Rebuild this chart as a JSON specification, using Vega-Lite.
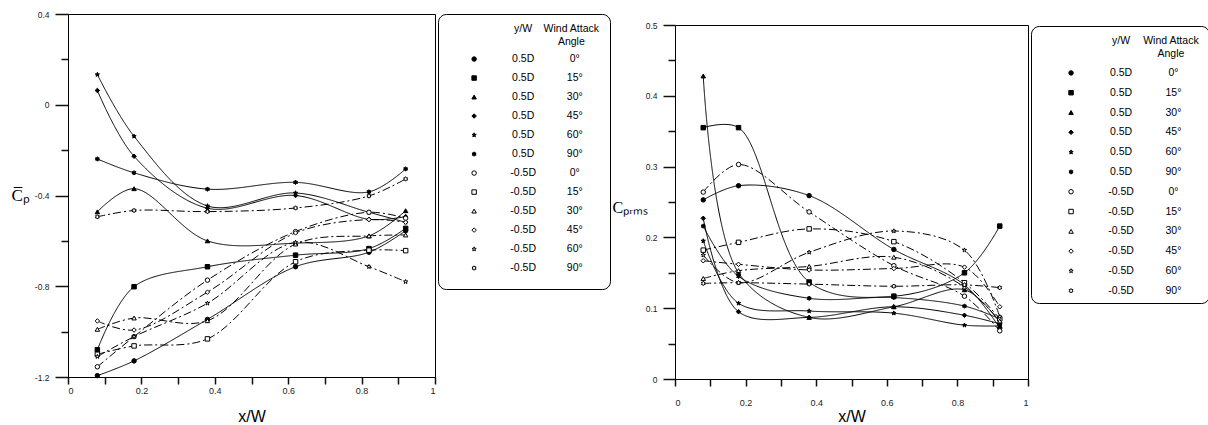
{
  "$schema": "https://vega.github.io/schema/vega-lite/v6.json",
  "background": "white",
  "padding": {"left": 10, "top": 9, "right": 0, "bottom": 0},
  "spacing": 0,
  "config": {
    "view": {"stroke": "black", "strokeWidth": 1},
    "font": "Liberation Sans",
    "axis": {"domainColor": "black", "domainWidth": 1, "labelColor": "#222", "labelFont": "Liberation Sans", "grid": false, "titleFont": "Liberation Sans", "titleFontWeight": "normal", "titleColor": "black", "zindex": 1}
  },
  "datasets": {
    "cp": [
      {"yw":"0.5D","a":"0°","x":0.08,"y":-1.194},{"yw":"0.5D","a":"0°","x":0.18,"y":-1.129},{"yw":"0.5D","a":"0°","x":0.38,"y":-0.946},{"yw":"0.5D","a":"0°","x":0.62,"y":-0.714},{"yw":"0.5D","a":"0°","x":0.82,"y":-0.65},{"yw":"0.5D","a":"0°","x":0.92,"y":-0.555},
      {"yw":"0.5D","a":"15°","x":0.08,"y":-1.08},{"yw":"0.5D","a":"15°","x":0.18,"y":-0.802},{"yw":"0.5D","a":"15°","x":0.38,"y":-0.714},{"yw":"0.5D","a":"15°","x":0.62,"y":-0.663},{"yw":"0.5D","a":"15°","x":0.82,"y":-0.634},{"yw":"0.5D","a":"15°","x":0.92,"y":-0.545},
      {"yw":"0.5D","a":"30°","x":0.08,"y":-0.472},{"yw":"0.5D","a":"30°","x":0.18,"y":-0.37},{"yw":"0.5D","a":"30°","x":0.38,"y":-0.6},{"yw":"0.5D","a":"30°","x":0.62,"y":-0.61},{"yw":"0.5D","a":"30°","x":0.82,"y":-0.578},{"yw":"0.5D","a":"30°","x":0.92,"y":-0.467},
      {"yw":"0.5D","a":"45°","x":0.08,"y":0.063},{"yw":"0.5D","a":"45°","x":0.18,"y":-0.227},{"yw":"0.5D","a":"45°","x":0.38,"y":-0.456},{"yw":"0.5D","a":"45°","x":0.62,"y":-0.4},{"yw":"0.5D","a":"45°","x":0.82,"y":-0.505},{"yw":"0.5D","a":"45°","x":0.92,"y":-0.493},
      {"yw":"0.5D","a":"60°","x":0.08,"y":0.133},{"yw":"0.5D","a":"60°","x":0.18,"y":-0.139},{"yw":"0.5D","a":"60°","x":0.38,"y":-0.446},{"yw":"0.5D","a":"60°","x":0.62,"y":-0.389},{"yw":"0.5D","a":"60°","x":0.82,"y":-0.474},{"yw":"0.5D","a":"60°","x":0.92,"y":-0.518},
      {"yw":"0.5D","a":"90°","x":0.08,"y":-0.239},{"yw":"0.5D","a":"90°","x":0.18,"y":-0.3},{"yw":"0.5D","a":"90°","x":0.38,"y":-0.372},{"yw":"0.5D","a":"90°","x":0.62,"y":-0.342},{"yw":"0.5D","a":"90°","x":0.82,"y":-0.384},{"yw":"0.5D","a":"90°","x":0.92,"y":-0.283},
      {"yw":"-0.5D","a":"0°","x":0.08,"y":-1.155},{"yw":"-0.5D","a":"0°","x":0.18,"y":-1.022},{"yw":"-0.5D","a":"0°","x":0.38,"y":-0.773},{"yw":"-0.5D","a":"0°","x":0.62,"y":-0.559},{"yw":"-0.5D","a":"0°","x":0.82,"y":-0.474},{"yw":"-0.5D","a":"0°","x":0.92,"y":-0.5},
      {"yw":"-0.5D","a":"15°","x":0.08,"y":-1.1},{"yw":"-0.5D","a":"15°","x":0.18,"y":-1.063},{"yw":"-0.5D","a":"15°","x":0.38,"y":-1.032},{"yw":"-0.5D","a":"15°","x":0.62,"y":-0.692},{"yw":"-0.5D","a":"15°","x":0.82,"y":-0.641},{"yw":"-0.5D","a":"15°","x":0.92,"y":-0.643},
      {"yw":"-0.5D","a":"30°","x":0.08,"y":-0.99},{"yw":"-0.5D","a":"30°","x":0.18,"y":-0.94},{"yw":"-0.5D","a":"30°","x":0.38,"y":-0.952},{"yw":"-0.5D","a":"30°","x":0.62,"y":-0.614},{"yw":"-0.5D","a":"30°","x":0.82,"y":-0.578},{"yw":"-0.5D","a":"30°","x":0.92,"y":-0.574},
      {"yw":"-0.5D","a":"45°","x":0.08,"y":-0.953},{"yw":"-0.5D","a":"45°","x":0.18,"y":-0.993},{"yw":"-0.5D","a":"45°","x":0.38,"y":-0.826},{"yw":"-0.5D","a":"45°","x":0.62,"y":-0.565},{"yw":"-0.5D","a":"45°","x":0.82,"y":-0.506},{"yw":"-0.5D","a":"45°","x":0.92,"y":-0.518},
      {"yw":"-0.5D","a":"60°","x":0.08,"y":-1.11},{"yw":"-0.5D","a":"60°","x":0.18,"y":-1.022},{"yw":"-0.5D","a":"60°","x":0.38,"y":-0.875},{"yw":"-0.5D","a":"60°","x":0.62,"y":-0.607},{"yw":"-0.5D","a":"60°","x":0.82,"y":-0.714},{"yw":"-0.5D","a":"60°","x":0.92,"y":-0.78},
      {"yw":"-0.5D","a":"90°","x":0.08,"y":-0.494},{"yw":"-0.5D","a":"90°","x":0.18,"y":-0.466},{"yw":"-0.5D","a":"90°","x":0.38,"y":-0.471},{"yw":"-0.5D","a":"90°","x":0.62,"y":-0.455},{"yw":"-0.5D","a":"90°","x":0.82,"y":-0.402},{"yw":"-0.5D","a":"90°","x":0.92,"y":-0.327}
    ],
    "cprms": [
      {"yw":"0.5D","a":"0°","x":0.08,"y":0.253},{"yw":"0.5D","a":"0°","x":0.18,"y":0.273},{"yw":"0.5D","a":"0°","x":0.38,"y":0.259},{"yw":"0.5D","a":"0°","x":0.62,"y":0.183},{"yw":"0.5D","a":"0°","x":0.82,"y":0.133},{"yw":"0.5D","a":"0°","x":0.92,"y":0.072},
      {"yw":"0.5D","a":"15°","x":0.08,"y":0.355},{"yw":"0.5D","a":"15°","x":0.18,"y":0.355},{"yw":"0.5D","a":"15°","x":0.38,"y":0.137},{"yw":"0.5D","a":"15°","x":0.62,"y":0.117},{"yw":"0.5D","a":"15°","x":0.82,"y":0.15},{"yw":"0.5D","a":"15°","x":0.92,"y":0.216},
      {"yw":"0.5D","a":"30°","x":0.08,"y":0.428},{"yw":"0.5D","a":"30°","x":0.18,"y":0.15},{"yw":"0.5D","a":"30°","x":0.38,"y":0.087},{"yw":"0.5D","a":"30°","x":0.62,"y":0.102},{"yw":"0.5D","a":"30°","x":0.82,"y":0.126},{"yw":"0.5D","a":"30°","x":0.92,"y":0.08},
      {"yw":"0.5D","a":"45°","x":0.08,"y":0.227},{"yw":"0.5D","a":"45°","x":0.18,"y":0.095},{"yw":"0.5D","a":"45°","x":0.38,"y":0.087},{"yw":"0.5D","a":"45°","x":0.62,"y":0.102},{"yw":"0.5D","a":"45°","x":0.82,"y":0.09},{"yw":"0.5D","a":"45°","x":0.92,"y":0.078},
      {"yw":"0.5D","a":"60°","x":0.08,"y":0.195},{"yw":"0.5D","a":"60°","x":0.18,"y":0.107},{"yw":"0.5D","a":"60°","x":0.38,"y":0.096},{"yw":"0.5D","a":"60°","x":0.62,"y":0.093},{"yw":"0.5D","a":"60°","x":0.82,"y":0.076},{"yw":"0.5D","a":"60°","x":0.92,"y":0.075},
      {"yw":"0.5D","a":"90°","x":0.08,"y":0.216},{"yw":"0.5D","a":"90°","x":0.18,"y":0.145},{"yw":"0.5D","a":"90°","x":0.38,"y":0.114},{"yw":"0.5D","a":"90°","x":0.62,"y":0.115},{"yw":"0.5D","a":"90°","x":0.82,"y":0.103},{"yw":"0.5D","a":"90°","x":0.92,"y":0.085},
      {"yw":"-0.5D","a":"0°","x":0.08,"y":0.264},{"yw":"-0.5D","a":"0°","x":0.18,"y":0.303},{"yw":"-0.5D","a":"0°","x":0.38,"y":0.236},{"yw":"-0.5D","a":"0°","x":0.62,"y":0.16},{"yw":"-0.5D","a":"0°","x":0.82,"y":0.117},{"yw":"-0.5D","a":"0°","x":0.92,"y":0.068},
      {"yw":"-0.5D","a":"15°","x":0.08,"y":0.182},{"yw":"-0.5D","a":"15°","x":0.18,"y":0.193},{"yw":"-0.5D","a":"15°","x":0.38,"y":0.212},{"yw":"-0.5D","a":"15°","x":0.62,"y":0.194},{"yw":"-0.5D","a":"15°","x":0.82,"y":0.136},{"yw":"-0.5D","a":"15°","x":0.92,"y":0.085},
      {"yw":"-0.5D","a":"30°","x":0.08,"y":0.142},{"yw":"-0.5D","a":"30°","x":0.18,"y":0.153},{"yw":"-0.5D","a":"30°","x":0.38,"y":0.159},{"yw":"-0.5D","a":"30°","x":0.62,"y":0.172},{"yw":"-0.5D","a":"30°","x":0.82,"y":0.13},{"yw":"-0.5D","a":"30°","x":0.92,"y":0.082},
      {"yw":"-0.5D","a":"45°","x":0.08,"y":0.167},{"yw":"-0.5D","a":"45°","x":0.18,"y":0.162},{"yw":"-0.5D","a":"45°","x":0.38,"y":0.154},{"yw":"-0.5D","a":"45°","x":0.62,"y":0.156},{"yw":"-0.5D","a":"45°","x":0.82,"y":0.158},{"yw":"-0.5D","a":"45°","x":0.92,"y":0.102},
      {"yw":"-0.5D","a":"60°","x":0.08,"y":0.175},{"yw":"-0.5D","a":"60°","x":0.18,"y":0.136},{"yw":"-0.5D","a":"60°","x":0.38,"y":0.179},{"yw":"-0.5D","a":"60°","x":0.62,"y":0.209},{"yw":"-0.5D","a":"60°","x":0.82,"y":0.182},{"yw":"-0.5D","a":"60°","x":0.92,"y":0.088},
      {"yw":"-0.5D","a":"90°","x":0.08,"y":0.135},{"yw":"-0.5D","a":"90°","x":0.18,"y":0.136},{"yw":"-0.5D","a":"90°","x":0.38,"y":0.134},{"yw":"-0.5D","a":"90°","x":0.62,"y":0.131},{"yw":"-0.5D","a":"90°","x":0.82,"y":0.133},{"yw":"-0.5D","a":"90°","x":0.92,"y":0.129}
    ],
    "leg": [
      {"r":1,"yw":"0.5D","a":"0°"},{"r":2,"yw":"0.5D","a":"15°"},{"r":3,"yw":"0.5D","a":"30°"},{"r":4,"yw":"0.5D","a":"45°"},{"r":5,"yw":"0.5D","a":"60°"},{"r":6,"yw":"0.5D","a":"90°"},
      {"r":7,"yw":"-0.5D","a":"0°"},{"r":8,"yw":"-0.5D","a":"15°"},{"r":9,"yw":"-0.5D","a":"30°"},{"r":10,"yw":"-0.5D","a":"45°"},{"r":11,"yw":"-0.5D","a":"60°"},{"r":12,"yw":"-0.5D","a":"90°"}
    ]
  },
  "hconcat": [
    {
      "width": 367, "height": 363,
      "data": {"name": "cp"},
      "encoding": {
        "x": {"field": "x", "type": "quantitative", "scale": {"domain": [0, 1], "nice": false},
          "axis": {"values": [0,0.1,0.2,0.3,0.4,0.5,0.6,0.7,0.8,0.9,1], "labelExpr": "round(datum.value*10)%2==0 ? ''+datum.value : ''", "ticks": true, "tickColor": "#111111", "tickWidth": 1.5, "tickOpacity": 1, "tickSize": 7, "labelPadding": 2, "labelFontSize": 9, "title": "x/W", "titleFontSize": 16, "titleY": 39, "titleBaseline": "middle"}},
        "y": {"field": "y", "type": "quantitative", "scale": {"domain": [-1.2, 0.4], "nice": false, "zero": false},
          "axis": {"values": [-1.2,-1,-0.8,-0.6,-0.4,-0.2,0,0.2,0.4], "labelExpr": "abs(round(datum.value*10))%4==0 ? ''+datum.value : ''", "ticks": true, "tickColor": "#111111", "tickWidth": 1.5, "tickOpacity": 1, "tickSize": {"condition": {"test": "abs(round(datum.value*10))%4==0", "value": 13}, "value": 7}, "labelPadding": 6, "labelFontSize": 8.5, "title": "C̅ₚ", "titleFont": "Liberation Serif", "titleFontSize": 17, "titleAngle": 0, "titleAlign": "left", "titleBaseline": "middle", "titleX": -57, "titleY": 181}}
      },
      "layer": [
        {"mark": {"type": "line", "interpolate": "catmull-rom", "color": "black", "strokeWidth": 1},
         "encoding": {"detail": {"field": "a"}, "strokeDash": {"field": "yw", "type": "nominal", "scale": {"domain": ["0.5D","-0.5D"], "range": [[1,0],[8,3,2,3]]}, "legend": null}}},
        {"mark": {"type": "point", "filled": true, "stroke": "black", "strokeWidth": 1, "opacity": 1, "size": 20},
         "encoding": {
           "shape": {"field": "a", "type": "nominal", "scale": {"domain": ["0°","15°","30°","45°","60°","90°"], "range": ["circle","square","triangle-up","diamond","M0,-1L0.235,-0.324L0.951,-0.309L0.38,0.124L0.588,0.809L0,0.4L-0.588,0.809L-0.38,0.124L-0.951,-0.309L-0.235,-0.324Z","M0,-1L0.3,-0.52L0.866,-0.5L0.6,0L0.866,0.5L0.3,0.52L0,1L-0.3,0.52L-0.866,0.5L-0.6,0L-0.866,-0.5L-0.3,-0.52Z"]}, "legend": null},
           "fill": {"field": "yw", "type": "nominal", "scale": {"domain": ["0.5D","-0.5D"], "range": ["black","white"]}, "legend": null}}}
      ]
    },
    {
      "width": 172, "height": 275,
      "view": {"stroke": "black", "strokeWidth": 1, "cornerRadius": 8},
      "data": {"name": "leg"},
      "layer": [
        {"mark": {"type": "point", "filled": true, "stroke": "black", "strokeWidth": 1, "opacity": 1, "size": 20},
         "encoding": {
           "x": {"datum": 0.21, "type": "quantitative", "scale": {"domain": [0, 1], "nice": false}, "axis": null},
           "y": {"field": "r", "type": "quantitative", "scale": {"domain": [-1.37, 13.1], "reverse": true, "nice": false, "zero": false}, "axis": null},
           "shape": {"field": "a", "type": "nominal", "scale": {"domain": ["0°","15°","30°","45°","60°","90°"], "range": ["circle","square","triangle-up","diamond","M0,-1L0.235,-0.324L0.951,-0.309L0.38,0.124L0.588,0.809L0,0.4L-0.588,0.809L-0.38,0.124L-0.951,-0.309L-0.235,-0.324Z","M0,-1L0.3,-0.52L0.866,-0.5L0.6,0L0.866,0.5L0.3,0.52L0,1L-0.3,0.52L-0.866,0.5L-0.6,0L-0.866,-0.5L-0.3,-0.52Z"]}, "legend": null},
           "fill": {"field": "yw", "type": "nominal", "scale": {"domain": ["0.5D","-0.5D"], "range": ["black","white"]}, "legend": null}}},
        {"mark": {"type": "text", "font": "Liberation Sans", "fontSize": 10.5, "align": "center", "baseline": "middle", "color": "black"},
         "encoding": {"x": {"datum": 0.495, "type": "quantitative"}, "y": {"field": "r", "type": "quantitative"}, "text": {"field": "yw"}}},
        {"mark": {"type": "text", "font": "Liberation Sans", "fontSize": 10.5, "align": "center", "baseline": "middle", "color": "black"},
         "encoding": {"x": {"datum": 0.795, "type": "quantitative"}, "y": {"field": "r", "type": "quantitative"}, "text": {"field": "a"}}},
        {"data": {"values": [{}]},
         "mark": {"type": "text", "text": "y/W", "font": "Liberation Sans", "fontSize": 10.5, "align": "center", "baseline": "top", "color": "black"},
         "encoding": {"x": {"datum": 0.495, "type": "quantitative"}, "y": {"datum": -0.85, "type": "quantitative"}}},
        {"data": {"values": [{}]},
         "mark": {"type": "text", "text": ["Wind Attack", "Angle"], "lineHeight": 13, "font": "Liberation Sans", "fontSize": 10.5, "align": "center", "baseline": "top", "color": "black"},
         "encoding": {"x": {"datum": 0.775, "type": "quantitative"}, "y": {"datum": -0.85, "type": "quantitative"}}}
      ]
    },
    {
      "spacing": 0,
      "vconcat": [
        {"width": 1, "height": 6, "view": {"fill": "white", "stroke": null}, "data": {"values": []}, "mark": "rect", "encoding": {}},
        {
          "width": 353, "height": 354,
          "data": {"name": "cprms"},
          "encoding": {
            "x": {"field": "x", "type": "quantitative", "scale": {"domain": [0, 1], "nice": false},
              "axis": {"values": [0,0.1,0.2,0.3,0.4,0.5,0.6,0.7,0.8,0.9,1], "labelExpr": "round(datum.value*10)%2==0 ? ''+datum.value : ''", "ticks": true, "tickColor": "#111111", "tickWidth": 1.5, "tickOpacity": 1, "tickSize": 7, "labelPadding": 12, "labelFontSize": 9, "title": "x/W", "titleFontSize": 16, "titleY": 37, "titleBaseline": "middle"}},
            "y": {"field": "y", "type": "quantitative", "scale": {"domain": [0, 0.5], "nice": false},
              "axis": {"values": [0,0.05,0.1,0.15,0.2,0.25,0.3,0.35,0.4,0.45,0.5], "labelExpr": "round(datum.value*100)%10==0 ? ''+datum.value : ''", "ticks": true, "tickColor": "#111111", "tickWidth": 1.5, "tickOpacity": 1, "tickSize": {"condition": {"test": "round(datum.value*100)%10==0", "value": 12}, "value": 7}, "labelPadding": 6, "labelFontSize": 8.5, "title": "Cₚᵣₘₛ", "titleFont": "Liberation Serif", "titleFontSize": 16, "titleAngle": 0, "titleAlign": "left", "titleBaseline": "middle", "titleX": -63, "titleY": 182}}
          },
          "layer": [
            {"mark": {"type": "line", "interpolate": "catmull-rom", "color": "black", "strokeWidth": 1},
             "encoding": {"detail": {"field": "a"}, "strokeDash": {"field": "yw", "type": "nominal", "scale": {"domain": ["0.5D","-0.5D"], "range": [[1,0],[8,3,2,3]]}, "legend": null}}},
            {"mark": {"type": "point", "filled": true, "stroke": "black", "strokeWidth": 1, "opacity": 1, "size": 20},
             "encoding": {
               "shape": {"field": "a", "type": "nominal", "scale": {"domain": ["0°","15°","30°","45°","60°","90°"], "range": ["circle","square","triangle-up","diamond","M0,-1L0.235,-0.324L0.951,-0.309L0.38,0.124L0.588,0.809L0,0.4L-0.588,0.809L-0.38,0.124L-0.951,-0.309L-0.235,-0.324Z","M0,-1L0.3,-0.52L0.866,-0.5L0.6,0L0.866,0.5L0.3,0.52L0,1L-0.3,0.52L-0.866,0.5L-0.6,0L-0.866,-0.5L-0.3,-0.52Z"]}, "legend": null},
               "fill": {"field": "yw", "type": "nominal", "scale": {"domain": ["0.5D","-0.5D"], "range": ["black","white"]}, "legend": null}}}
          ]
        }
      ]
    },
    {
      "spacing": 0,
      "vconcat": [
        {"width": 1, "height": 11, "view": {"fill": "white", "stroke": null}, "data": {"values": []}, "mark": "rect", "encoding": {}},
        {
          "width": 178, "height": 277,
          "view": {"stroke": "black", "strokeWidth": 1, "cornerRadius": 8},
          "data": {"name": "leg"},
          "layer": [
            {"mark": {"type": "point", "filled": true, "stroke": "black", "strokeWidth": 1, "opacity": 1, "size": 20},
             "encoding": {
               "x": {"datum": 0.225, "type": "quantitative", "scale": {"domain": [0, 1], "nice": false}, "axis": null},
               "y": {"field": "r", "type": "quantitative", "scale": {"domain": [-1.37, 12.62], "reverse": true, "nice": false, "zero": false}, "axis": null},
               "shape": {"field": "a", "type": "nominal", "scale": {"domain": ["0°","15°","30°","45°","60°","90°"], "range": ["circle","square","triangle-up","diamond","M0,-1L0.235,-0.324L0.951,-0.309L0.38,0.124L0.588,0.809L0,0.4L-0.588,0.809L-0.38,0.124L-0.951,-0.309L-0.235,-0.324Z","M0,-1L0.3,-0.52L0.866,-0.5L0.6,0L0.866,0.5L0.3,0.52L0,1L-0.3,0.52L-0.866,0.5L-0.6,0L-0.866,-0.5L-0.3,-0.52Z"]}, "legend": null},
               "fill": {"field": "yw", "type": "nominal", "scale": {"domain": ["0.5D","-0.5D"], "range": ["black","white"]}, "legend": null}}},
            {"mark": {"type": "text", "font": "Liberation Sans", "fontSize": 10.5, "align": "center", "baseline": "middle", "color": "black"},
             "encoding": {"x": {"datum": 0.506, "type": "quantitative"}, "y": {"field": "r", "type": "quantitative"}, "text": {"field": "yw"}}},
            {"mark": {"type": "text", "font": "Liberation Sans", "fontSize": 10.5, "align": "center", "baseline": "middle", "color": "black"},
             "encoding": {"x": {"datum": 0.8, "type": "quantitative"}, "y": {"field": "r", "type": "quantitative"}, "text": {"field": "a"}}},
            {"data": {"values": [{}]},
             "mark": {"type": "text", "text": "y/W", "font": "Liberation Sans", "fontSize": 10.5, "align": "center", "baseline": "top", "color": "black"},
             "encoding": {"x": {"datum": 0.506, "type": "quantitative"}, "y": {"datum": -0.85, "type": "quantitative"}}},
            {"data": {"values": [{}]},
             "mark": {"type": "text", "text": ["Wind Attack", "Angle"], "lineHeight": 13, "font": "Liberation Sans", "fontSize": 10.5, "align": "center", "baseline": "top", "color": "black"},
             "encoding": {"x": {"datum": 0.786, "type": "quantitative"}, "y": {"datum": -0.85, "type": "quantitative"}}}
          ]
        }
      ]
    }
  ]
}
